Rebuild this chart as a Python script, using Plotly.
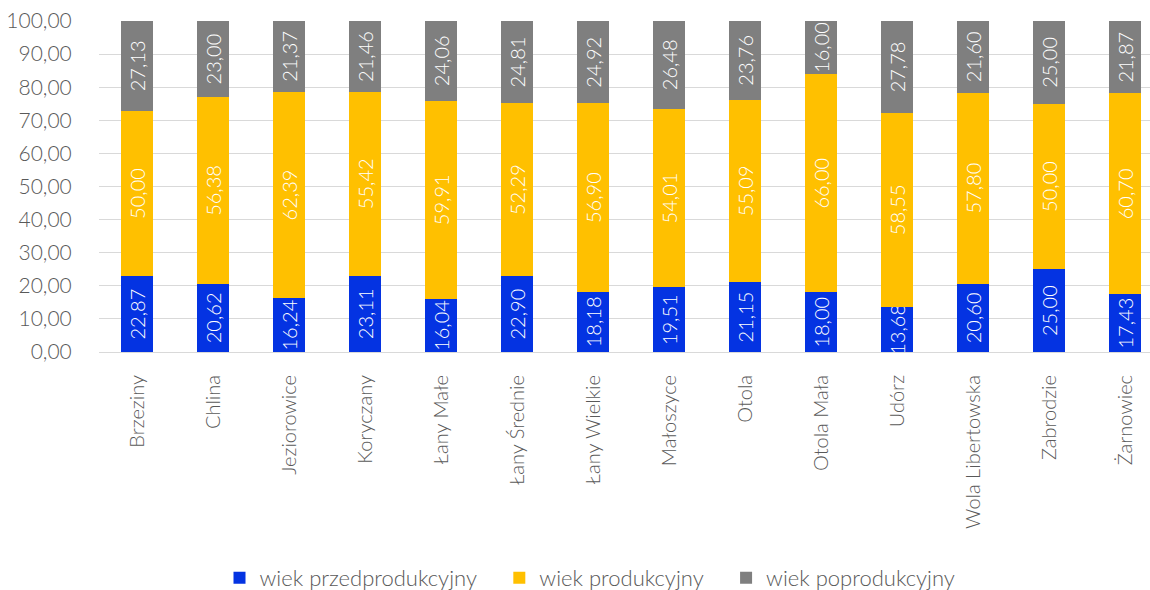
import plotly.graph_objects as go

categories = ["Brzeziny", "Chlina", "Jeziorowice", "Koryczany", "Łany Małe", "Łany Średnie",
              "Łany Wielkie", "Małoszyce", "Otola", "Otola Mała", "Udórz", "Wola Libertowska",
              "Zabrodzie", "Żarnowiec"]
przed = [22.87, 20.62, 16.24, 23.11, 16.04, 22.90, 18.18, 19.51, 21.15, 18.00, 13.68, 20.60, 25.00, 17.43]
prod = [50.00, 56.38, 62.39, 55.42, 59.91, 52.29, 56.90, 54.01, 55.09, 66.00, 58.55, 57.80, 50.00, 60.70]
post = [27.13, 23.00, 21.37, 21.46, 24.06, 24.81, 24.92, 26.48, 23.76, 16.00, 27.78, 21.60, 25.00, 21.87]

series = [
    ("wiek przedprodukcyjny", przed, "#0433E2", "\u00a0" * 3),
    ("wiek produkcyjny", prod, "#FFC000", "\u00a0" * 3),
    ("wiek poprodukcyjny", post, "#7F7F7F", ""),
]

W, H = 1150, 590
FONT = "Lato"
fig = go.Figure()
for name, vals, col, pad in series:
    fig.add_trace(go.Bar(
        x=categories, y=vals, name=name + pad, marker=dict(color=col, line=dict(width=0)),
        texttemplate="%{y:.2f}", textposition="inside", insidetextanchor="middle",
        textangle=-90, textfont=dict(color="white", size=20, family=FONT, weight=300),
        constraintext="none",
    ))

fig.update_layout(
    barmode="stack", bargap=0.58, width=W, height=H,
    separators=", ",
    margin=dict(l=99, r=0, t=21, b=238, autoexpand=False),
    plot_bgcolor="white", paper_bgcolor="white",
    font=dict(family=FONT, color="#595959", size=19, weight=300),
    uniformtext=dict(mode=False),
    legend=dict(orientation="h", x=0.5 + 15/W, xanchor="center", xref="container",
                y=12/H, yanchor="middle", yref="container",
                font=dict(size=22, color="#595959", weight=300), traceorder="normal",
                itemwidth=30),
    xaxis=dict(range=[-0.5, -0.5 + 1051/76], tickangle=-90, showgrid=False,
               showline=True, linecolor="#D9D9D9", linewidth=1,
               ticks="outside", ticklen=14, tickcolor="rgba(0,0,0,0)",
               tickfont=dict(size=20, weight=300), automargin=False,
               ticklabeloverflow="allow"),
    yaxis=dict(range=[0, 100], dtick=10, tickformat=".2f", showgrid=True,
               gridcolor="#D9D9D9", gridwidth=1, zeroline=False,
               ticks="outside", ticklen=22, tickcolor="rgba(0,0,0,0)",
               tickfont=dict(size=21, weight=300), automargin=False,
               ticklabeloverflow="allow"),
)
fig.write_html("out.html", config={"displayModeBar": False},
               post_script="document.body.style.margin='0';")
